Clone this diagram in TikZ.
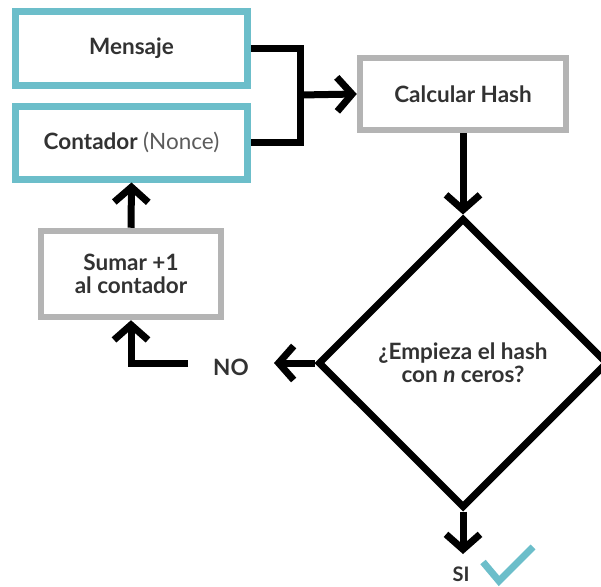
\documentclass[tikz,border=0pt]{standalone}
\usepackage{fontspec}
\setmainfont{Lato}
\usepackage{tikz}
\usetikzlibrary{arrows.meta,positioning,shapes.geometric}
\usepackage{xcolor}
\definecolor{tealbox}{RGB}{108,190,202}
\definecolor{graybox}{RGB}{180,180,180}
\definecolor{textdark}{RGB}{50,50,50}

\begin{document}
\begin{tikzpicture}[x=1pt,y=-1pt,
    font=\fontsize{22.5}{23}\selectfont\bfseries,
    inputbox/.style={draw=tealbox,line width=7pt,text=textdark,minimum width=232pt,minimum height=73pt,inner sep=0pt},
    stepbox/.style={draw=graybox,line width=6.5pt,text=textdark,align=center,inner sep=0pt},
    flow/.style={line width=7pt,draw=black,-{Straight Barb[length=15pt,width=34pt]}},
    link/.style={line width=7pt,draw=black}]
    \useasboundingbox (0,0) rectangle (601,586);
    \node[inputbox] (mensaje) at (131.5,48.5) {Mensaje};
    \node[inputbox] (contador) at (131.5,142.5) {Contador {\mdseries\color{textdark!80}(Nonce)}};
    \node[stepbox,minimum width=206pt,minimum height=72pt] (hash) at (463,94) {Calcular Hash};
    \node[stepbox,minimum width=180pt,minimum height=86pt] (sumar) at (131,274) {Sumar +1\\al contador};
    \node[diamond,draw,line width=7pt,minimum width=290pt,minimum height=290pt,inner sep=0pt,
          align=center,text=textdark] (test) at (463,363) {¿Empieza el hash\\con \textit{n} ceros?};
    \node[text=textdark,inner sep=0pt] (no) at (231,367) {NO};
    \node[text=textdark,inner sep=0pt,font=\fontsize{20}{20}\selectfont\bfseries] (si) at (461,574) {SI};
    \coordinate (join) at (300,95);
    \coordinate (noend) at (274,363);
    \coordinate (nostart) at (188,363);
    \coordinate (siend) at (463,554);
    \draw[link,line join=miter] (mensaje.east) -| (join) |- (contador.east);
    \draw[flow] (join) -- (hash.west);
    \draw[flow] (hash.south) -- (test.north);
    \draw[flow] (test.south) -- (siend);
    \draw[flow] (test.west) -- (noend);
    \draw[flow] (nostart) -| (sumar.south);
    \draw[flow] (sumar.north) -- (contador.south);
    \draw[tealbox,line width=7pt] (483,562) -- (499,581) -- (533,547);
\end{tikzpicture}
\end{document}
